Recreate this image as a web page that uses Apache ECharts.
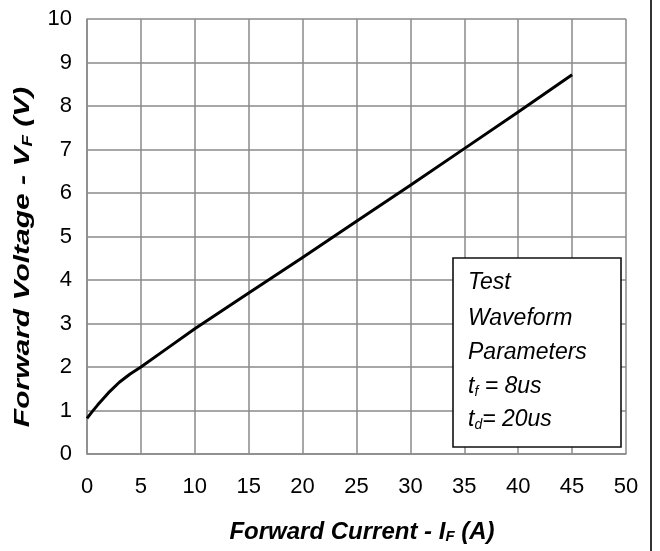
<!DOCTYPE html>
<html>
<head>
<meta charset="utf-8">
<script src="https://cdn.jsdelivr.net/npm/echarts@6/dist/echarts.min.js"></script>
<style>html,body{margin:0;padding:0;background:#fff;}#c{width:660px;height:551px;}</style>
</head>
<body>
<div id="c"></div>
<script>
// Data
const currentA = [0, 0.5, 1, 2, 3, 4, 5, 7.5, 10, 15, 20, 25, 30, 35, 40, 45];
const voltageV = [0.82, 0.98, 1.13, 1.41, 1.65, 1.84, 2.0, 2.44, 2.88, 3.7, 4.52, 5.35, 6.18, 7.02, 7.86, 8.72];
const xTicks = [0, 5, 10, 15, 20, 25, 30, 35, 40, 45, 50];
const yTicks = [0, 1, 2, 3, 4, 5, 6, 7, 8, 9, 10];
const xTitle = ['Forward Current - I', 'F', ' (A)'];
const yTitle = ['Forward Voltage - V', 'F', ' (V)'];
const boxLines = ['Test', 'Waveform', 'Parameters'];
const boxParams = [['t', 'f', ' = 8us'], ['t', 'd', '= 20us']];

const chart = echarts.init(document.getElementById('c'), null, {renderer: 'canvas'});
const gridColor = '#8a8a8a';
const font = "'Liberation Sans', Arial, sans-serif";

const titleRich = {
  m: {fontFamily: font, fontSize: 24, fontWeight: 'bold', fontStyle: 'italic', color: '#111'},
  s: {fontFamily: font, fontSize: 15, fontWeight: 'bold', fontStyle: 'italic', color: '#111', verticalAlign: 'bottom', padding: [10, 0, 0, 0]}
};
const boxRich = {
  m: {fontFamily: font, fontSize: 23, fontStyle: 'italic', color: '#222'},
  s: {fontFamily: font, fontSize: 14, fontStyle: 'italic', color: '#222', padding: [10, 0, 0, 0]}
};

const children = [];
// page right border
children.push({type: 'line', shape: {x1: 651, y1: 0, x2: 651, y2: 551}, style: {stroke: '#333', lineWidth: 2}, z: 10});
// x title
children.push({type: 'text', x: 362, y: 532, style: {text: '{m|' + xTitle[0] + '}{s|' + xTitle[1] + '}{m|' + xTitle[2] + '}', rich: titleRich, align: 'center', verticalAlign: 'middle'}, z: 10});
// y title
children.push({type: 'text', x: 23, y: 257, rotation: Math.PI / 2, scaleX: 1.25, scaleY: 0.95, style: {text: '{m|' + yTitle[0] + '}{s|' + yTitle[1] + '}{m|' + yTitle[2] + '}', rich: titleRich, align: 'center', verticalAlign: 'middle'}, z: 10});
// legend box
children.push({type: 'rect', shape: {x: 453, y: 258, width: 168, height: 189}, style: {fill: '#fff', stroke: '#111', lineWidth: 1.6}, z: 20});
const lineYs = [283, 319, 353, 387, 420];
boxLines.forEach((t, i) => {
  children.push({type: 'text', x: 468, y: lineYs[i], style: {text: '{m|' + t + '}', rich: boxRich, align: 'left', verticalAlign: 'middle'}, z: 21});
});
boxParams.forEach((p, i) => {
  children.push({type: 'text', x: 468, y: lineYs[3 + i], style: {text: '{m|' + p[0] + '}{s|' + p[1] + '}{m|' + p[2] + '}', rich: boxRich, align: 'left', verticalAlign: 'middle'}, z: 21});
});

chart.setOption({
  animation: false,
  backgroundColor: '#fff',
  grid: {left: 87, right: 34, top: 19, bottom: 97, containLabel: false},
  xAxis: {
    type: 'value', min: 0, max: 50, interval: 5,
    axisLine: {show: true, lineStyle: {color: gridColor, width: 1.5}},
    axisTick: {show: false},
    splitLine: {show: true, lineStyle: {color: gridColor, width: 1.5}},
    axisLabel: {color: '#000', fontFamily: font, fontSize: 22, margin: 22,
      formatter: v => xTicks.includes(v) ? String(v) : ''}
  },
  yAxis: {
    type: 'value', min: 0, max: 10, interval: 1,
    axisLine: {show: true, lineStyle: {color: gridColor, width: 1.5}},
    axisTick: {show: false},
    splitLine: {show: true, lineStyle: {color: gridColor, width: 1.5}},
    axisLabel: {color: '#000', fontFamily: font, fontSize: 22, margin: 15,
      formatter: v => yTicks.includes(v) ? String(v) : ''}
  },
  series: [{
    type: 'line',
    data: currentA.map((x, i) => [x, voltageV[i]]),
    smooth: false,
    showSymbol: false,
    lineStyle: {color: '#000', width: 3, join: 'round', cap: 'butt'},
    z: 5
  }],
  graphic: {elements: children}
});
</script>
</body>
</html>
